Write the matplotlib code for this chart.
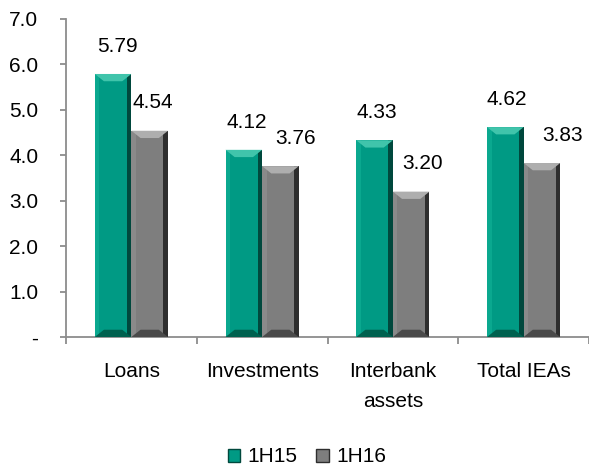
import matplotlib.pyplot as plt
import numpy as np
from matplotlib.patches import Patch


# values
categories = ["Loans", "Investments", "Interbank\nassets", "Total IEAs"]
series_names = ["1H15", "1H16"]
values_1h15 = [5.79, 4.12, 4.33, 4.62]
values_1h16 = [4.54, 3.76, 3.20, 3.83]
y_ticks = [0, 1, 2, 3, 4, 5, 6, 7]
y_tick_labels = ["-", "1.0", "2.0", "3.0", "4.0", "5.0", "6.0", "7.0"]

# horizontal nudge (px) of each value label, as placed in the original
label_dx_1h15 = [4, 3, 2, 1]
label_dx_1h16 = [3, 15, 11, 21]

# colours: main face, top bevel, left edge, right edge, bottom edge
green = ["#009a84", "#40c4ab", "#0aa88f", "#00483d", "#00614f"]
grey = ["#7e7e7e", "#aeaeae", "#8a8a8a", "#2e2e2e", "#4a4a4a"]

plt.rcParams['font.family'] = ['Liberation Sans', 'DejaVu Sans']
fs = 15

fig = plt.figure(figsize=(5.89, 4.71), dpi=100)
ax = fig.add_axes([66 / 589, 1 - 337 / 471, 1 - 66 / 589, 318 / 471])

x = np.arange(len(categories))
w = 0.28
bars1 = ax.bar(x - w / 2, values_1h15, w, color=green[0], zorder=2)
bars2 = ax.bar(x + w / 2, values_1h16, w, color=grey[0], zorder=2)


def bevel(bar, cols):
    # fake the 3d bevel look with a few polygons over the bar
    x0 = bar.get_x()
    bw = bar.get_width()
    x1 = x0 + bw
    top = bar.get_height()
    bx = 0.035  # ~5 px
    by = 0.16   # ~7 px
    ax.fill([x0, x0 + bx, x0 + bx, x0], [0, 0, top, top], color=cols[2], lw=0, zorder=3)
    ax.fill([x1 - bx, x1, x1, x1 - bx], [0, 0, top, top], color=cols[3], lw=0, zorder=3)
    ax.fill([x0, x1, x0 + 0.75 * bw, x0 + 0.25 * bw], [0, 0, by, by], color=cols[4], lw=0, zorder=4)
    ax.fill([x0, x1, x0 + 0.75 * bw, x0 + 0.25 * bw], [top, top, top - by, top - by],
            color=cols[1], lw=0, zorder=4)


for b in bars1:
    bevel(b, green)
for b in bars2:
    bevel(b, grey)

for bars, dxs in [(bars1, label_dx_1h15), (bars2, label_dx_1h16)]:
    for b, dx in zip(bars, dxs):
        ax.annotate(f"{b.get_height():.2f}", (b.get_x() + b.get_width() / 2, b.get_height()),
                    xytext=(dx * 0.72, 20), textcoords="offset points",
                    ha="center", va="center", fontsize=fs, color="black")

ax.set_ylim(0, 7)
ax.set_xlim(-0.5, -0.5 + 523 / 132)
ax.set_yticks(y_ticks, y_tick_labels)
ax.set_xticks(np.arange(len(categories) + 1) - 0.5, [""] * (len(categories) + 1))
ax.set_xticks(x, categories, minor=True)

axis_col = "#8c8c8c"
for s in ["top", "right"]:
    ax.spines[s].set_visible(False)
for s in ["left", "bottom"]:
    ax.spines[s].set_color(axis_col)
    ax.spines[s].set_linewidth(1.3)

ax.tick_params(axis="y", length=4, width=1.3, color=axis_col, pad=16, labelsize=fs)
ax.tick_params(axis="x", which="major", length=5, width=1.3, color=axis_col)
ax.tick_params(axis="x", which="minor", length=0, pad=18, labelsize=fs)
for t in ax.get_xticklabels(minor=True):
    t.set_linespacing(1.75)
    t.set_verticalalignment("top")

handles = [Patch(facecolor=green[0], edgecolor=green[3], lw=1),
           Patch(facecolor=grey[0], edgecolor=grey[3], lw=1)]
fig.legend(handles, series_names, loc="center", bbox_to_anchor=(307 / 589, 1 - 457 / 471),
           ncol=2, frameon=False, fontsize=fs, handlelength=0.6, handleheight=0.6,
           handletextpad=0.35, columnspacing=0.9)

fig.savefig("out.png", dpi=100)
